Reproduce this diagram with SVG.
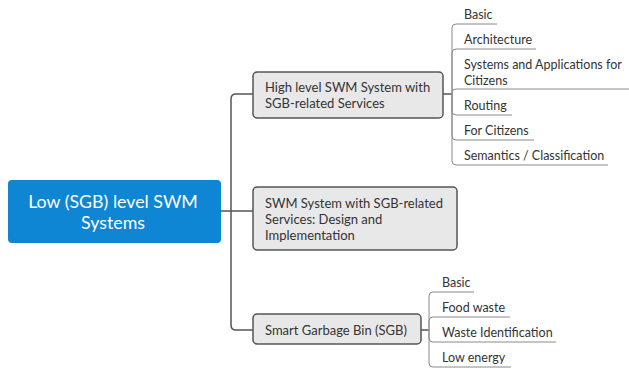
<svg xmlns="http://www.w3.org/2000/svg" width="629" height="370" viewBox="0 0 629 370">
<style>
.main{fill:none;stroke:#555;stroke-width:1.5}
.leafline{fill:none;stroke:#8a8a8a;stroke-width:1}
.box{fill:#e8e8e8;stroke:#555;stroke-width:1.5}
.bt{font-family:"Lato","Liberation Sans",sans-serif;font-size:13px;fill:#333}
.lt{font-family:"Lato","Liberation Sans",sans-serif;font-size:12.5px;fill:#333}
.rt{font-family:"Lato","Liberation Sans",sans-serif;font-size:17.8px;fill:#fff}
</style>
<rect width="629" height="370" fill="#fff"/>
<g id="connectors">
<path class="main" d="M253,94 H236 Q231,94 231,99 V325 Q231,330 236,330 H253"/>
<path class="main" d="M221,211 H253"/>
<path class="main" d="M443,94 H452"/>
<path class="main" d="M421,330 H429"/>
<path class="leafline" d="M452,94 V28 Q452,24 456,24 H497"/>
<path class="leafline" d="M452,94 V53 Q452,49 456,49 H536"/>
<path class="leafline" d="M452,94 V93 Q452,89 456,89 H629"/>
<path class="leafline" d="M452,94 V111 Q452,115 456,115 H512"/>
<path class="leafline" d="M452,94 V136 Q452,140 456,140 H534"/>
<path class="leafline" d="M452,94 V161 Q452,165 456,165 H608"/>
<path class="leafline" d="M429,330 V296 Q429,292 433,292 H474"/>
<path class="leafline" d="M429,330 V321 Q429,317 433,317 H510"/>
<path class="leafline" d="M429,330 V338 Q429,342 433,342 H556"/>
<path class="leafline" d="M429,330 V363 Q429,367 433,367 H511"/>
</g>
<g id="root">
<rect x="8" y="180" width="213" height="63" rx="4" fill="#0E86D4"/>
<text class="rt" x="113" y="208" text-anchor="middle">Low (SGB) level SWM</text>
<text class="rt" x="113" y="229" text-anchor="middle">Systems</text>
</g>
<g id="high-level">
<rect class="box" x="253" y="72" width="190" height="46" rx="4"/>
<text class="bt" x="265" y="91.5">High level SWM System with</text>
<text class="bt" x="265" y="107.5">SGB-related Services</text>
</g>
<g id="design">
<rect class="box" x="253" y="187" width="204" height="63" rx="4"/>
<text class="bt" x="265" y="207.5">SWM System with SGB-related</text>
<text class="bt" x="265" y="223.5">Services: Design and</text>
<text class="bt" x="265" y="239.5">Implementation</text>
</g>
<g id="sgb">
<rect class="box" x="253" y="314" width="168" height="30" rx="4"/>
<text class="bt" x="265" y="334.5">Smart Garbage Bin (SGB)</text>
</g>
<g id="leaf-basic1"><text class="lt" x="464" y="18.5">Basic</text></g>
<g id="leaf-architecture"><text class="lt" x="464" y="43.5">Architecture</text></g>
<g id="leaf-systems"><text class="lt" x="464" y="68.5">Systems and Applications for</text><text class="lt" x="464" y="84.5">Citizens</text></g>
<g id="leaf-routing"><text class="lt" x="464" y="109.5">Routing</text></g>
<g id="leaf-forcitizens"><text class="lt" x="464" y="134.5">For Citizens</text></g>
<g id="leaf-semantics"><text class="lt" x="464" y="159.5">Semantics / Classification</text></g>
<g id="leaf-basic2"><text class="lt" x="442" y="286.5">Basic</text></g>
<g id="leaf-food"><text class="lt" x="442" y="311.5">Food waste</text></g>
<g id="leaf-waste"><text class="lt" x="442" y="336.5">Waste Identification</text></g>
<g id="leaf-lowenergy"><text class="lt" x="442" y="361.5">Low energy</text></g>
</svg>
